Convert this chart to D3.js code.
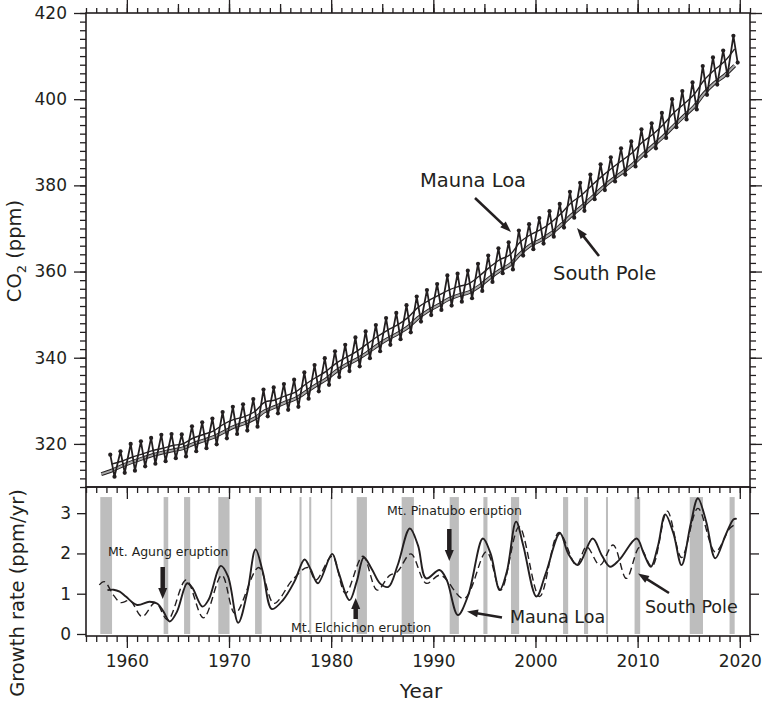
<!DOCTYPE html>
<html><head><meta charset="utf-8">
<script src="https://cdn.jsdelivr.net/npm/d3@7"></script>
<style>
body{margin:0;background:#fff;}
svg{display:block;font-family:"DejaVu Sans",sans-serif;}
</style></head><body>
<svg id="c" width="763" height="709"></svg>
<script>
// ---------------- DATA ----------------
const mlYears = d3.range(1958, 2020);
// Mauna Loa monthly CO2: seasonal maximum (May) and minimum (Sep/Oct), ppm
const mlMay = [317.5,318.3,320.0,320.6,321.4,322.1,322.3,322.2,324.1,325.0,325.9,327.4,328.6,329.2,330.4,332.6,333.1,333.9,334.9,336.6,338.3,339.9,341.5,343.0,344.7,346.1,347.6,349.2,350.4,352.2,354.2,355.7,357.1,359.1,359.5,360.2,361.8,363.7,365.4,366.8,369.5,371.0,372.4,374.0,375.7,378.5,380.6,382.5,384.9,386.5,388.6,390.2,393.0,394.4,396.8,400.0,401.9,403.9,407.7,409.7,411.3,414.7];
const mlOct = [312.4,313.3,313.8,314.8,315.4,316.0,316.7,317.1,318.3,319.0,319.9,321.3,322.3,323.1,324.0,326.4,327.1,327.9,328.6,330.5,332.2,333.7,335.5,336.9,338.0,339.9,341.5,343.0,344.3,345.9,348.4,349.9,351.1,352.1,353.0,353.8,355.5,357.6,359.6,360.5,363.7,365.2,366.5,368.1,370.2,372.5,374.1,376.8,378.9,380.9,382.5,384.4,386.8,388.6,391.0,393.5,395.3,397.6,401.0,403.4,405.5,408.5];
// Mauna Loa annual (deseasonalised trend), ppm
const mlAnnual = [315.3,315.98,316.91,317.64,318.45,318.99,319.62,320.04,321.37,322.18,323.05,324.62,325.68,326.32,327.46,329.68,330.19,331.13,332.03,333.84,335.41,336.84,338.76,340.12,341.48,343.15,344.87,346.35,347.61,349.31,351.69,353.2,354.45,355.7,356.54,357.21,358.96,360.97,362.74,363.88,366.84,368.54,369.71,371.32,373.45,375.98,377.7,379.98,382.09,384.02,385.83,387.64,390.1,391.85,394.06,396.74,398.81,401.01,404.41,406.76,408.72,411.66];
// South Pole annual, ppm
const spYears = d3.range(1957, 2020);
const spAnnual = [313.0,313.8,314.9,315.8,316.6,317.4,318.0,318.5,319.0,320.0,320.8,321.6,322.8,324.0,324.8,325.9,327.6,328.6,329.6,330.5,332.0,333.6,335.0,336.9,338.4,339.6,341.1,342.8,344.3,345.6,347.1,349.2,350.9,352.2,353.6,354.5,355.2,356.6,358.5,360.2,361.6,364.1,366.1,367.3,368.8,370.8,373.0,375.0,377.1,379.3,381.3,383.0,384.8,387.1,389.2,391.3,393.7,396.0,398.2,401.3,403.7,405.5,407.8];

// Growth rates (ppm/yr)
const mlRateYear = [1958.1,1958.7,1959.3,1959.9,1961.0,1962.2,1963.0,1963.6,1964.2,1964.9,1965.9,1966.4,1967.4,1968.0,1969.2,1969.9,1970.9,1971.8,1972.6,1973.3,1974.2,1975.3,1976.4,1977.4,1978.0,1978.7,1980.1,1980.7,1981.8,1982.5,1983.2,1984.0,1984.8,1985.6,1986.5,1987.7,1988.5,1989.3,1990.6,1991.3,1992.4,1993.4,1994.85,1995.6,1996.5,1997.2,1998.1,1998.8,2000.1,2001.0,2002.4,2003.2,2004.15,2005.6,2006.5,2007.3,2008.2,2009.9,2010.6,2011.3,2012.0,2012.7,2013.5,2014.3,2015.2,2015.9,2016.7,2017.6,2018.6,2019.4,2019.7];
const mlRate = [1.09,1.10,1.05,0.93,0.72,0.80,0.75,0.55,0.31,0.55,1.26,1.15,0.68,0.85,1.69,1.43,0.28,1.05,2.10,1.55,0.62,0.85,1.30,1.85,1.60,1.26,1.99,1.55,0.84,1.30,1.90,1.60,1.25,1.17,1.70,2.62,2.20,1.38,1.59,1.35,0.47,0.95,2.37,2.00,1.09,1.55,2.79,2.20,0.93,1.50,2.50,2.00,1.71,2.37,1.95,1.67,1.84,2.37,2.00,1.67,2.20,2.97,2.50,1.71,2.74,3.37,2.80,1.88,2.45,2.85,2.86];
const spRateYear = [1957.3,1957.8,1958.7,1959.4,1960.3,1961.5,1962.8,1964.0,1965.8,1967.5,1969.3,1970.6,1972.9,1974.4,1976.2,1977.7,1978.5,1980.1,1981.4,1983.1,1984.5,1985.7,1986.5,1987.8,1989.3,1990.7,1993.0,1995.2,1996.6,1998.4,2000.4,2002.3,2004.0,2005.0,2006.3,2007.6,2008.9,2010.2,2011.4,2012.9,2014.3,2015.9,2017.6,2019.0,2019.4];
const spRate = [1.22,1.30,0.96,0.78,0.83,0.43,0.78,0.35,1.34,0.40,1.46,0.51,1.65,0.76,1.34,1.65,1.34,1.93,1.01,1.93,1.09,1.45,1.55,1.99,1.26,1.46,0.88,2.04,1.09,2.66,0.93,2.52,1.71,2.17,1.71,2.21,1.38,2.15,1.68,3.05,1.90,3.12,2.04,2.62,2.70];

// El Niño periods (shaded)
const ensoStart = [1957.4,1963.6,1965.6,1968.95,1972.55,1976.9,1977.85,1979.95,1982.5,1986.9,1991.6,1994.9,1997.6,2002.7,2004.75,2006.9,2009.7,2015.1,2019.0];
const ensoEnd   = [1958.55,1964.05,1966.2,1970.05,1973.2,1977.1,1978.05,1980.1,1983.5,1988.1,1992.5,1995.3,1998.4,2003.2,2005.15,2007.1,2010.25,2016.4,2019.5];
const ensoTop = 3.4;

const co2Ticks = [320,340,360,380,400,420];
const rateTicks = [0,1,2,3];
const yearLabels = [1960,1970,1980,1990,2000,2010,2020];

// ---------------- SETUP ----------------
const ink = "#231f20";
const svg = d3.select("#c");
const x = d3.scaleLinear().domain([1956, 2021]).range([86, 750]);
const yT = d3.scaleLinear().domain([310, 420]).range([487, 13]);
const yB = d3.scaleLinear().domain([-0.05, 3.65]).range([636, 487]);

// bars
svg.append("g").selectAll("rect").data(ensoStart).join("rect")
  .attr("x", (d,i)=>x(d)).attr("width",(d,i)=>x(ensoEnd[i])-x(d))
  .attr("y", yB(ensoTop)).attr("height", yB(0)-yB(ensoTop))
  .attr("fill","#bdbdbd");

// axes helper
function ax(gen, tx, ty, vals, size, fmt, pad){
  const g = svg.append("g").attr("transform",`translate(${tx},${ty})`)
    .call(gen.tickValues(vals).tickSize(size).tickPadding(pad||3).tickFormat(fmt||(()=>"")));
  g.select(".domain").remove();
  g.selectAll("line").attr("stroke",ink).attr("stroke-width",1.3);
  g.selectAll("text").attr("fill",ink).attr("font-size",17).attr("font-family","DejaVu Sans");
  return g;
}
const allYears = d3.range(1956, 2022);
const fiveYears = allYears.filter(d=>d%5===0);
const tenYears = yearLabels;
// top edge
ax(d3.axisTop(x),0,13,allYears,5);
ax(d3.axisTop(x),0,13,fiveYears,9);
ax(d3.axisTop(x),0,13,tenYears,13);
// between panels (pointing down)
ax(d3.axisBottom(x),0,487,allYears,6);
ax(d3.axisBottom(x),0,487,tenYears,12);
// bottom
ax(d3.axisBottom(x),0,636,allYears,6);
ax(d3.axisBottom(x),0,636,tenYears,12,d3.format("d"),7);
// top panel y
const co2Minor = d3.range(310,421,2);
ax(d3.axisLeft(yT),86,0,co2Minor,6);
ax(d3.axisLeft(yT),86,0,co2Ticks,12,d3.format("d"),7);
ax(d3.axisRight(yT),750,0,co2Minor,6);
ax(d3.axisRight(yT),750,0,co2Ticks,12);
// bottom panel y
ax(d3.axisLeft(yB),86,0,rateTicks,9,d3.format("d"),6);
ax(d3.axisRight(yB),750,0,rateTicks,9);

// frames
svg.append("rect").attr("x",86).attr("y",13).attr("width",664).attr("height",474)
  .attr("fill","none").attr("stroke",ink).attr("stroke-width",1.6);
svg.append("rect").attr("x",86).attr("y",487).attr("width",664).attr("height",149)
  .attr("fill","none").attr("stroke",ink).attr("stroke-width",1.6);

// ---------------- TOP PANEL ----------------
const topG = svg.append("g");
// South Pole
const spPts = spYears.map((yr,i)=>[yr+0.5, spAnnual[i]]);
const lineT = d3.line().x(d=>x(d[0])).y(d=>yT(d[1])).curve(d3.curveCatmullRom);
topG.append("path").attr("d", lineT(spPts))
  .attr("fill","none").attr("stroke",ink).attr("stroke-width",3.8);
topG.append("path").attr("d", lineT(spPts))
  .attr("fill","none").attr("stroke","#a8a8a8").attr("stroke-width",2);
// Mauna Loa seasonal zigzag
const mlPts = [];
mlYears.forEach((yr,i)=>{ mlPts.push([yr+4.5/12, mlMay[i]]); mlPts.push([yr+9.5/12, mlOct[i]]); });
topG.append("path").attr("d", d3.line().x(d=>x(d[0])).y(d=>yT(d[1]))(mlPts))
  .attr("fill","none").attr("stroke",ink).attr("stroke-width",1.8);
topG.append("g").selectAll("circle").data(mlPts).join("circle")
  .attr("cx",d=>x(d[0])).attr("cy",d=>yT(d[1])).attr("r",2.1).attr("fill",ink);
// Mauna Loa trend
const mlTr = mlYears.map((yr,i)=>[yr+0.5, mlAnnual[i]]);
topG.append("path").attr("d", lineT(mlTr))
  .attr("fill","none").attr("stroke",ink).attr("stroke-width",1.4);

// ---------------- BOTTOM PANEL ----------------
const lineB = d3.line().x(d=>x(d[0])).y(d=>yB(d[1])).curve(d3.curveCatmullRom.alpha(0.5));
svg.append("path").attr("d", lineB(spRateYear.map((t,i)=>[t,spRate[i]])))
  .attr("fill","none").attr("stroke",ink).attr("stroke-width",1.4).attr("stroke-dasharray","7,4");
svg.append("path").attr("d", lineB(mlRateYear.map((t,i)=>[t,mlRate[i]])))
  .attr("fill","none").attr("stroke",ink).attr("stroke-width",1.9);

// ---------------- ANNOTATIONS ----------------
function arrow(x1,y1,x2,y2,sw,hl,hw){
  const dx=x2-x1, dy=y2-y1, L=Math.hypot(dx,dy), ux=dx/L, uy=dy/L;
  const bx=x2-ux*hl, by=y2-uy*hl;
  svg.append("line").attr("x1",x1).attr("y1",y1).attr("x2",bx+ux).attr("y2",by+uy)
    .attr("stroke",ink).attr("stroke-width",sw);
  svg.append("path").attr("d",`M${x2},${y2}L${bx-uy*hw/2},${by+ux*hw/2}L${bx+uy*hw/2},${by-ux*hw/2}Z`)
    .attr("fill",ink);
}
function label(t,xx,yy,fs,anchor){
  svg.append("text").attr("x",xx).attr("y",yy).attr("font-size",fs)
    .attr("text-anchor",anchor||"start").attr("fill",ink).text(t);
}
label("Mauna Loa",420,187,19.5);
arrow(475,198,511,232,2.6,11,8);
label("South Pole",553,280,19.5);
arrow(599,256,577,228,2.6,11,8);

label("Mt. Agung eruption",108,556,12.5);
arrow(162.7,567,162.7,599,4.5,11,9);
label("Mt. Elchichon eruption",291,631.5,12.5);
arrow(355.7,619,355.7,598,4.5,11,9);
label("Mt. Pinatubo eruption",387,515,12.5);
arrow(449.3,529,449.3,561,4.5,11,9);
label("Mauna Loa",510,623,17.5);
arrow(502,617.5,467,611.5,2.6,11,8);
label("South Pole",645,613,17.5);
arrow(669,593,638,573.5,2.6,11,8);

// axis titles
svg.append("text").attr("x",421).attr("y",698).attr("text-anchor","middle")
  .attr("font-size",20).attr("fill",ink).text("Year");
const co2t = svg.append("text").attr("transform","translate(21,251) rotate(-90)")
  .attr("text-anchor","middle").attr("font-size",19.5).attr("fill",ink);
co2t.append("tspan").text("CO");
co2t.append("tspan").attr("font-size",13).attr("dy",5).text("2");
co2t.append("tspan").attr("dy",-5).text(" (ppm)");
svg.append("text").attr("transform","translate(24,593) rotate(-90)")
  .attr("text-anchor","middle").attr("font-size",19.5).attr("fill",ink).text("Growth rate (ppm/yr)");
</script>
</body></html>
